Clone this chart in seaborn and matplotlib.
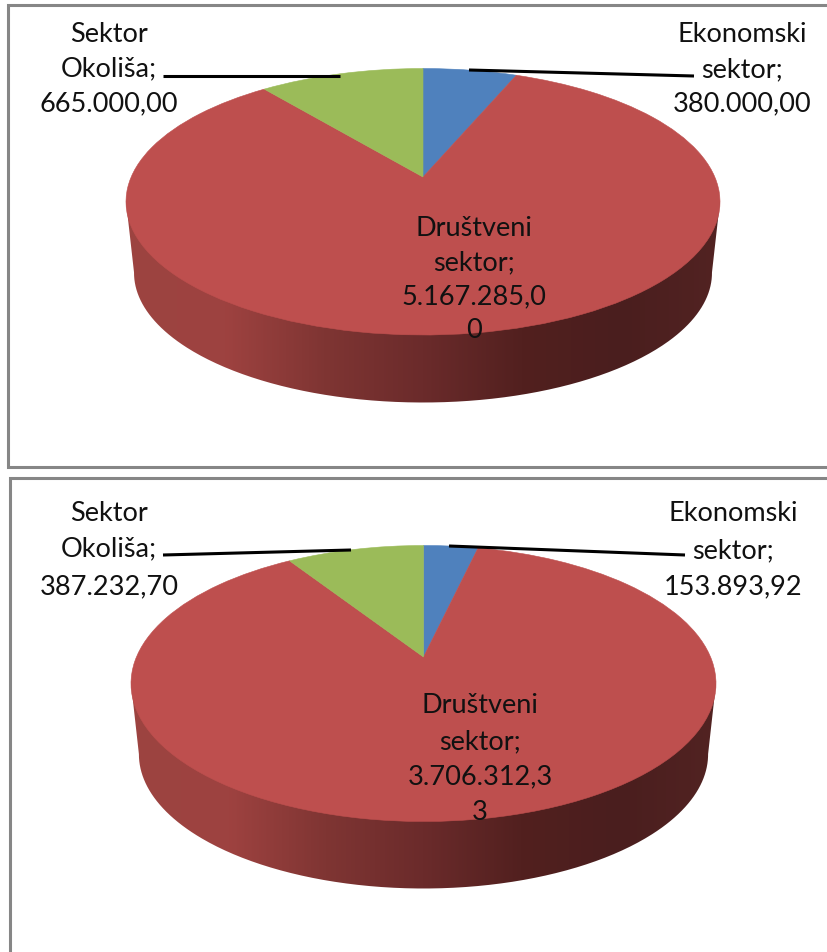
import numpy as np
import matplotlib
matplotlib.use("Agg")
import matplotlib.pyplot as plt
from matplotlib.colors import ListedColormap
from matplotlib.path import Path
from matplotlib.patches import PathPatch
from matplotlib.transforms import Transform
import seaborn as sns

# podaci
sektori = ["Ekonomski sektor", "Društveni sektor", "Sektor Okoliša"]
vrijednosti_1 = [380000.00, 5167285.00, 665000.00]
vrijednosti_2 = [153893.92, 3706312.33, 387232.70]

okolis_1 = ["Sektor", "Okoliša;", "665.000,00"]
ekonomski_1 = ["Ekonomski", "sektor;", "380.000,00"]
drustveni_1 = ["Društveni", "sektor;", "5.167.285,0", "0"]
okolis_2 = ["Sektor", "Okoliša;", "387.232,70"]
ekonomski_2 = ["Ekonomski", "sektor;", "153.893,92"]
drustveni_2 = ["Društveni", "sektor;", "3.706.312,3", "3"]

boje = ["#4F81BD", "#BE4F4E", "#9BBB59"]
boje_strane = ["#9C4441", "#9E4240", "#7F3533", "#6B2B2B", "#52201F", "#4A1E1E", "#522322"]

sns.set_theme(style="white")
plt.rcParams["font.family"] = ["Lato", "DejaVu Sans"]

W, H = 828, 953
fig = plt.figure(figsize=(W / 100, H / 100), dpi=100)
ax = fig.add_axes([0, 0, 1, 1])


class Perspektiva(Transform):
    input_dims = output_dims = 2

    def __init__(self, cx, cy, a, b, k):
        super().__init__()
        self.cx, self.cy, self.a, self.b, self.k = cx, cy, a, b, k

    def transform_non_affine(self, xy):
        xy = np.asarray(xy, dtype=float)
        w = 1 + self.k * xy[:, 1]
        return np.column_stack([self.cx + self.a * xy[:, 0] / w, self.cy - self.b * xy[:, 1] / w])


def nacrtaj_pitu(vrijednosti, lijevo, desno, vrh, centar, dno, dno_strane):
    cx = (lijevo + desno) / 2
    rx = (desno - lijevo) / 2
    # perspektiva: sredina pite nije na sredini elipse
    gore, dolje = centar - vrh, dno - centar
    k = (dolje - gore) / (dolje + gore)
    b = gore * (1 + k)
    a = rx * np.sqrt(1 - k ** 2)
    gornja = Perspektiva(cx, centar, a, b, k)

    # donji rub
    skala = 0.973
    donji_c = dno_strane - dolje * skala
    donja = Perspektiva(cx, donji_c, a * skala, b * skala, k)

    t = np.linspace(0, 2 * np.pi, 721)
    krug = np.column_stack([np.cos(t), np.sin(t)])
    g = gornja.transform(krug)
    d = donja.transform(krug)
    g_l, g_d = g[g[:, 0].argmin()], g[g[:, 0].argmax()]
    d_prednji = d[d[:, 1] > d[d[:, 0].argmin(), 1] - 1]
    d_prednji = d_prednji[np.argsort(d_prednji[:, 0])]
    obris = np.vstack([g_l, d_prednji, g_d, g_l])

    # strana s gradijentom
    cmap = ListedColormap(sns.blend_palette(boje_strane, 256))
    slika = ax.imshow(np.linspace(0, 1, 256)[None, :], cmap=cmap, aspect="auto",
                      extent=(lijevo, desno, dno_strane + 2, centar - 20), zorder=1)
    maska = PathPatch(Path(obris), transform=ax.transData, fc="none", ec="none")
    ax.add_patch(maska)
    slika.set_clip_path(maska)

    klinovi, _ = ax.pie(vrijednosti, colors=boje, startangle=90, counterclock=False,
                        wedgeprops={"linewidth": 0.4, "zorder": 2})
    for i, klin in enumerate(klinovi):
        klin.set_edgecolor(boje[i])
        klin.set_transform(gornja + ax.transData)
        klin.set_clip_on(False)


def natpis(linije, x, y):
    for red, yy in zip(linije, y):
        ax.text(x, yy, red, ha="center", va="center", fontsize=19.5, color="#111111", zorder=5)


nacrtaj_pitu(vrijednosti_1, 126, 720, 69.5, 178, 336, 403.5)
nacrtaj_pitu(vrijednosti_2, 131, 716, 546.5, 658, 822.5, 889.5)

ax.set_aspect("auto")
ax.set_xlim(0, W)
ax.set_ylim(H, 0)
ax.set_axis_off()

# okviri
siva = "#868686"
ax.plot([829, 8, 8, 829], [6, 6, 467.5, 467.5], color=siva, lw=2.2, solid_joinstyle="miter", zorder=3)
ax.plot([829, 10.5, 10.5], [479, 479, 954], color=siva, lw=2.2, solid_joinstyle="miter", zorder=3)

# vodilice
for xs, ys in [([163, 340], [77, 77]), ([469, 694], [71, 77]),
               ([163, 351], [556, 551]), ([449, 685], [547, 556])]:
    ax.plot(xs, ys, color="black", lw=2.2, zorder=4, solid_capstyle="butt")

natpis(okolis_1, 109, [35, 69, 104])
natpis(ekonomski_1, 742, [35, 70, 104])
natpis(drustveni_1, 474, [228, 263, 297, 331])
natpis(okolis_2, 109, [514, 549, 587])
natpis(ekonomski_2, 733, [514, 551, 587])
natpis(drustveni_2, 480, [706, 742, 777, 813])

fig.savefig("out.png", dpi=100, facecolor="white")
